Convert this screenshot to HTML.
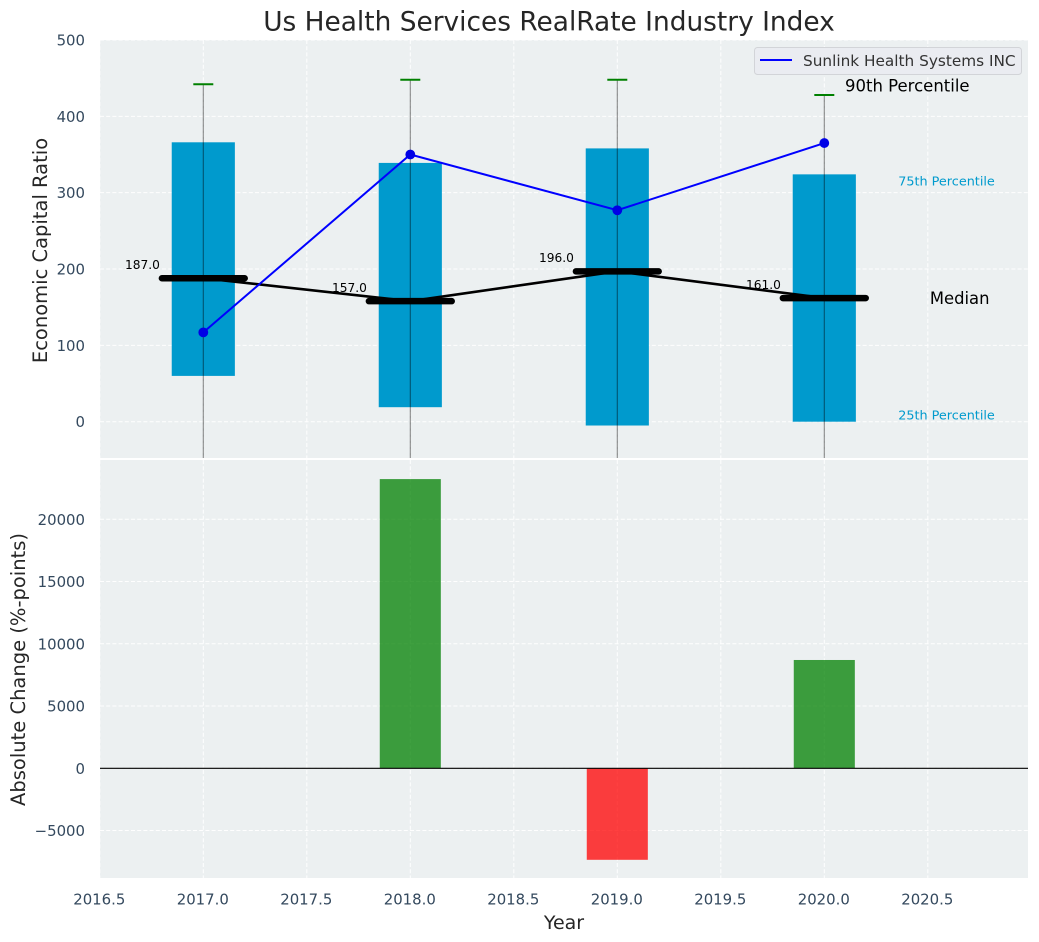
<!DOCTYPE html>
<html lang="en">
<head>
<meta charset="utf-8">
<title>Us Health Services RealRate Industry Index</title>
<style>
html,body{margin:0;padding:0;background:#fff;}
svg{display:block;font-family:"DejaVu Sans","Liberation Sans",sans-serif;}
</style>
</head>
<body>
<svg id="chart" xmlns="http://www.w3.org/2000/svg" width="1039" height="942" viewBox="0 0 1039 942">
  <defs>
    <clipPath id="top-clip"><rect x="100" y="40" width="928" height="418"/></clipPath>
    <clipPath id="bottom-clip"><rect x="100" y="460" width="928" height="418"/></clipPath>
  </defs>
  <rect x="100" y="40" width="928" height="418" fill="#ecf0f1"/>
  <rect x="100" y="460" width="928" height="418" fill="#ecf0f1"/>
  <g id="top-grid" clip-path="url(#top-clip)"></g>
  <g id="bottom-grid" clip-path="url(#bottom-clip)"></g>
  <g id="top-marks" clip-path="url(#top-clip)"></g>
  <g id="bottom-marks" clip-path="url(#bottom-clip)"></g>
  <g id="labels"></g>
  <g id="ticks"></g>
  <text x="549" y="30.5" text-anchor="middle" font-size="26.4" fill="#262626">Us Health Services RealRate Industry Index</text>
  <text transform="translate(47,250.5) rotate(-90)" text-anchor="middle" font-size="19.5" fill="#262626">Economic Capital Ratio</text>
  <text transform="translate(25,669.5) rotate(-90)" text-anchor="middle" font-size="19.5" fill="#262626">Absolute Change (%-points)</text>
  <text x="564" y="929" text-anchor="middle" font-size="19" fill="#262626">Year</text>
  <g>
    <rect x="754.5" y="47.5" width="267" height="27" rx="3" fill="#eaecf1" stroke="#d2d4d8" stroke-width="1"/>
    <line x1="760" y1="60" x2="792" y2="60" stroke="#0000ff" stroke-width="2"/>
    <text x="803" y="66" font-size="15.3" fill="#333">Sunlink Health Systems INC</text>
  </g>
</svg>
<script>
const years = [2017, 2018, 2019, 2020];
const p25 = [60, 19, -5, 0];
const p75 = [366, 339, 358, 324];
const p90 = [442, 448, 448, 428];
const whiskerLow = [-100, -100, -100, -100];
const medians = [187, 157, 196, 161];
const company = [117, 350, 277, 365];
const changeYears = [2018, 2019, 2020];
const changes = [23230, -7350, 8700];
const xTicks = [2016.5, 2017, 2017.5, 2018, 2018.5, 2019, 2019.5, 2020, 2020.5];
const topTicks = [0, 100, 200, 300, 400, 500];
const bottomTicks = [-5000, 0, 5000, 10000, 15000, 20000];

const NS = 'http://www.w3.org/2000/svg';
const xAt = function (v) { return 203.3 + (v - 2017) * 207; };
const yTop = function (v) { return 421.7 - v * 0.7634; };
const yBottom = function (v) { return 768.3 - v * 0.01245; };
const boxWidth = 0.305;
const changeWidth = 0.295;
const medianHalf = 0.2;
const medianNudge = 0.7;

function make(tag, parent, props, text) {
  const el = document.createElementNS(NS, tag);
  Object.keys(props).forEach(function (k) { el.setAttribute(k, props[k]); });
  if (text !== undefined) el.textContent = text;
  parent.appendChild(el);
  return el;
}
const topGrid = document.getElementById('top-grid');
const bottomGrid = document.getElementById('bottom-grid');
const topMarks = document.getElementById('top-marks');
const bottomMarks = document.getElementById('bottom-marks');
const labels = document.getElementById('labels');
const ticks = document.getElementById('ticks');
const gridStyle = { stroke: '#fff', 'stroke-width': 1, 'stroke-dasharray': '4 2.2', opacity: 0.95 };

xTicks.forEach(function (t) {
  const a = make('line', topGrid, Object.assign({ x1: xAt(t), x2: xAt(t), y1: 40, y2: 458 }, gridStyle));
  
  
  const b = make('line', bottomGrid, Object.assign({ x1: xAt(t), x2: xAt(t), y1: 460, y2: 878 }, gridStyle));
  
  
  const l = make('text', ticks, { x: xAt(t) - 0.5, y: 904.5, 'text-anchor': 'middle', 'font-size': 14.9, fill: '#34495e' }, t.toFixed(1));
  
  
});
topTicks.forEach(function (t) {
  const g = make('line', topGrid, Object.assign({ x1: 100, x2: 1028, y1: yTop(t), y2: yTop(t) }, gridStyle));
  
  
  const l = make('text', ticks, { x: 85, y: yTop(t) + 5.5, 'text-anchor': 'end', 'font-size': 14.9, fill: '#34495e' }, String(t));
  
  
});
bottomTicks.forEach(function (t) {
  const g = make('line', bottomGrid, Object.assign({ x1: 100, x2: 1028, y1: yBottom(t), y2: yBottom(t) }, gridStyle));
  
  
  const label = t < 0 ? '\u2212' + Math.abs(t) : String(t);
  const l = make('text', ticks, { x: 85, y: yBottom(t) + 5.5, 'text-anchor': 'end', 'font-size': 14.9, fill: '#34495e' }, label);
  
  
});

years.forEach(function (yr, i) {
  const w = (boxWidth * 207);
  const box = make('rect', topMarks, { x: xAt(yr) - w / 2, y: yTop(p75[i]), width: w, height: yTop(p25[i]) - yTop(p75[i]), fill: '#009acd' });
  
  
});
years.forEach(function (yr, i) {
  const wh = make('line', topMarks, { x1: xAt(yr), x2: xAt(yr), y1: yTop(p90[i]), y2: yTop(whiskerLow[i]), stroke: '#000', 'stroke-opacity': 0.45, 'stroke-width': 1.1 });
  
  
  const cap = make('line', topMarks, { x1: xAt(yr) - 10, x2: xAt(yr) + 10, y1: yTop(p90[i]), y2: yTop(p90[i]), stroke: '#008000', 'stroke-width': 2 });
  
  
});

const medianPath = make('polyline', topMarks, { points: years.map(function (yr, i) { return xAt(yr) + ',' + (yTop(medians[i]) - medianNudge); }).join(' '), fill: 'none', stroke: '#000', 'stroke-width': 2.6 });


years.forEach(function (yr, i) {
  const my = yTop(medians[i]) - medianNudge;
  const m = make('line', topMarks, { x1: xAt(yr - medianHalf), x2: xAt(yr + medianHalf), y1: my, y2: my, stroke: '#000', 'stroke-width': 6.5, 'stroke-linecap': 'round' });
  
  
  const t = make('text', labels, { x: xAt(yr - 0.21), y: yTop(medians[i]) - 10, 'text-anchor': 'end', 'font-size': 12.2, fill: '#000' }, medians[i].toFixed(1));
  
  
});

const companyPath = make('polyline', topMarks, { points: years.map(function (yr, i) { return xAt(yr) + ',' + yTop(company[i]); }).join(' '), fill: 'none', stroke: '#0000ff', 'stroke-width': 2 });


years.forEach(function (yr, i) {
  const c = make('circle', topMarks, { cx: xAt(yr), cy: yTop(company[i]), r: 4.9, fill: '#0000e6' });
  
  
});

changeYears.forEach(function (yr, i) {
  const w = changeWidth * 207;
  const v = changes[i];
  const top = v >= 0 ? yBottom(v) : yBottom(0);
  const h = Math.abs(yBottom(v) - yBottom(0));
  const bar = make('rect', bottomMarks, { x: xAt(yr) - w / 2, y: top, width: w, height: h, fill: v >= 0 ? '#008000' : '#ff0000', 'fill-opacity': 0.75 });
  
  
});
const zero = make('line', bottomMarks, { x1: 100, x2: 1028, y1: yBottom(0), y2: yBottom(0), stroke: '#000', 'stroke-width': 1.1 });



const last = years.length - 1;
const lastYear = years[last];
const p90Label = make('text', labels, { x: xAt(lastYear + 0.1), y: yTop(p90[last]) - 3.5, 'font-size': 16.5, fill: '#000' }, '90th Percentile');


const p75Label = make('text', labels, { x: xAt(lastYear + 0.357), y: yTop(p75[last]) + 11, 'font-size': 12.8, fill: '#009acd' }, '75th Percentile');


const p25Label = make('text', labels, { x: xAt(lastYear + 0.357), y: yTop(p25[last]) - 2, 'font-size': 12.8, fill: '#009acd' }, '25th Percentile');


const medLabel = make('text', labels, { x: xAt(lastYear + 0.51), y: yTop(medians[last]) + 5, 'font-size': 16.4, fill: '#000' }, 'Median');


</script>
</body>
</html>
